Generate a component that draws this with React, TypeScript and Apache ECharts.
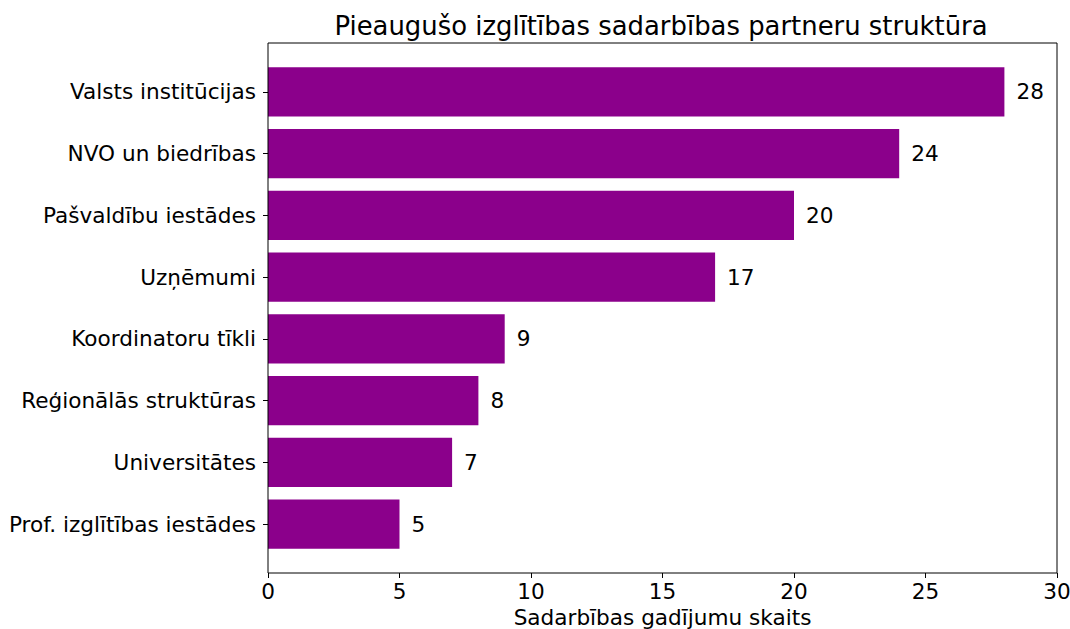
import React, { useEffect, useRef } from "react";
import * as echarts from "echarts";

const categories = [
  "Valsts institūcijas",
  "NVO un biedrības",
  "Pašvaldību iestādes",
  "Uzņēmumi",
  "Koordinatoru tīkli",
  "Reģionālās struktūras",
  "Universitātes",
  "Prof. izglītības iestādes",
];
const values = [28, 24, 20, 17, 9, 8, 7, 5];
const titleText = "Pieaugušo izglītības sadarbības partneru struktūra";
const xAxisName = "Sadarbības gadījumu skaits";

const FONT = "DejaVu Sans";
const FS = 21.6;

export default function App() {
  const ref = useRef<HTMLDivElement>(null);
  useEffect(() => {
    if (!ref.current) return;
    const chart = echarts.init(ref.current, null, { renderer: "svg" });
    chart.setOption({
      animation: false,
      backgroundColor: "#ffffff",
      textStyle: { fontFamily: FONT },
      title: {
        text: titleText,
        left: 656,
        top: 8,
        textAlign: "center",
        textStyle: { fontFamily: FONT, fontSize: 25.9, fontWeight: "normal", color: "#000" },
      },
      grid: {
        left: 268,
        right: 13,
        top: 61,
        bottom: 74,
        containLabel: false,
        outerBoundsMode: "none",
      },
      xAxis: {
        type: "value",
        min: 0,
        max: 30,
        interval: 5,
        offset: 18,
        name: xAxisName,
        nameLocation: "middle",
        nameGap: 32,
        nameTextStyle: { fontFamily: FONT, fontSize: FS, color: "#000" },
        axisLine: { show: false },
        axisTick: { show: true, length: 5, lineStyle: { color: "#000" } },
        axisLabel: { fontFamily: FONT, fontSize: FS, color: "#000", margin: 7 },
        splitLine: { show: false },
      },
      yAxis: {
        type: "category",
        data: categories,
        inverse: true,
        axisLine: { show: false },
        axisTick: { show: true, length: 5, alignWithLabel: true, lineStyle: { color: "#000" } },
        axisLabel: { fontFamily: FONT, fontSize: FS, color: "#000", margin: 12 },
      },
      series: [
        {
          type: "bar",
          data: values,
          barCategoryGap: "20%",
          itemStyle: { color: "#8B008B" },
          label: {
            show: true,
            position: "right",
            distance: 12,
            fontFamily: FONT,
            fontSize: FS,
            color: "#000",
          },
        },
      ],
      graphic: [
        {
          type: "rect",
          shape: { x: 268, y: 43, width: 789, height: 530 },
          style: { fill: "none", stroke: "#000", lineWidth: 1 },
          silent: true,
          z: 10,
        },
      ],
    });
    return () => chart.dispose();
  }, []);
  return (
    <div
      ref={ref}
      style={{ position: "fixed", left: 0, top: 0, width: 1070, height: 629 }}
    />
  );
}
